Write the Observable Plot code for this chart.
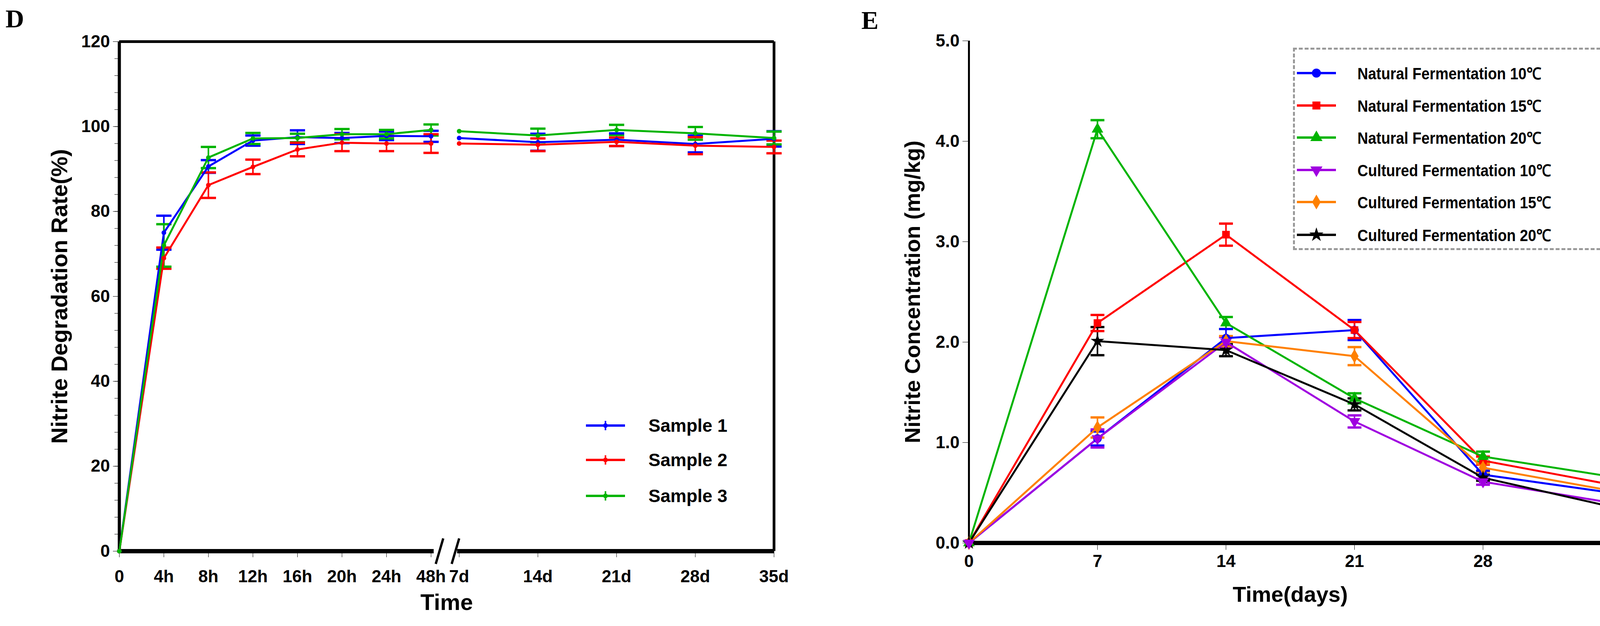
<!DOCTYPE html>
<html><head><meta charset="utf-8">
<script src="https://cdn.jsdelivr.net/npm/d3@7"></script>
<script src="https://cdn.jsdelivr.net/npm/@observablehq/plot@0.6"></script>
<style>
body{margin:0;background:#fff;width:4166px;height:1602px;position:relative;overflow:hidden;font-family:"Liberation Sans Narrow","Arial Narrow","Liberation Sans",sans-serif;font-weight:bold}
.panel{position:absolute;top:0}
.lbl{position:absolute;font-family:"Liberation Serif","DejaVu Serif",serif;font-weight:bold;font-size:66px}
.leg{position:absolute;font-size:46px;display:flex;align-items:center;white-space:nowrap;transform-origin:left center}
</style></head><body>
<div class="lbl" style="left:14px;top:10px">D</div>
<div class="lbl" style="left:2205px;top:14px">E</div>
<div id="d" class="panel" style="left:0"></div>
<div id="e" class="panel" style="left:2100px"></div>
<div id="legD"></div><div id="legE"></div>
<script>
// ---------- Panel D data ----------
const dHours = [0, 4, 8, 12, 16, 20, 24, 48];
const dDays = [7, 14, 21, 28, 35];
const dTickLabels = ["0","4h","8h","12h","16h","20h","24h","48h","7d","14d","21d","28d","35d"];
const samples = ["Sample 1", "Sample 2", "Sample 3"];
const sampleColors = ["#0000ff", "#ff0000", "#00b400"];
const s1Hours = [0, 75.0, 90.6, 96.7, 97.5, 97.3, 97.8, 97.7];
const s2Hours = [0, 69.0, 86.2, 90.5, 94.6, 96.2, 96.0, 96.0];
const s3Hours = [0, 72.0, 92.7, 97.2, 97.3, 98.2, 98.2, 99.2];
const s1Days = [97.3, 96.3, 96.9, 95.9, 97.1];
const s2Days = [96.0, 95.7, 96.4, 95.5, 95.2];
const s3Days = [98.9, 97.9, 99.2, 98.4, 97.3];
const s1HoursSD = [0, 4.0, 1.5, 1.2, 1.6, 1.2, 1.0, 1.3];
const s2HoursSD = [0, 2.5, 3.0, 1.7, 1.6, 2.0, 1.8, 2.2];
const s3HoursSD = [0, 5.0, 2.5, 1.3, 1.0, 1.2, 1.0, 1.3];
const s1DaysSD = [0, 2.0, 1.5, 2.0, 1.8];
const s2DaysSD = [0, 1.5, 1.0, 2.0, 1.5];
const s3DaysSD = [0, 1.6, 1.2, 1.5, 1.5];

// ---------- Panel E data ----------
const eDays = [0, 7, 14, 21, 28, 35];
const eSeries = ["Natural Fermentation 10℃","Natural Fermentation 15℃","Natural Fermentation 20℃","Cultured Fermentation 10℃","Cultured Fermentation 15℃","Cultured Fermentation 20℃"];
const eColors = ["#0000ff","#ff0000","#00b400","#a000e0","#ff8000","#000000"];
const eSymbols = ["circle","square","triangle","triangle-down","diamond","star"];
const nat10 = [0, 1.04, 2.04, 2.12, 0.68, 0.50];
const nat15 = [0, 2.19, 3.07, 2.12, 0.82, 0.58];
const nat20 = [0, 4.12, 2.19, 1.44, 0.86, 0.66];
const cul10 = [0, 1.04, 2.00, 1.21, 0.61, 0.40];
const cul15 = [0, 1.15, 2.01, 1.86, 0.75, 0.52];
const cul20 = [0, 2.01, 1.92, 1.38, 0.65, 0.36];
const nat10SD = [0, 0.07, 0.09, 0.10, 0.04, 0.03];
const nat15SD = [0, 0.08, 0.11, 0.08, 0.04, 0.03];
const nat20SD = [0, 0.09, 0.06, 0.05, 0.05, 0.03];
const cul10SD = [0, 0.09, 0.05, 0.06, 0.03, 0.03];
const cul15SD = [0, 0.10, 0.05, 0.09, 0.04, 0.03];
const cul20SD = [0, 0.14, 0.06, 0.06, 0.03, 0.03];

const FONT = '"Liberation Sans Narrow","Arial Narrow","Liberation Sans",sans-serif';
const capSym = {draw(ctx, size){ const r = Math.sqrt(size); ctx.moveTo(-r,0); ctx.lineTo(r,0);} };

// build D rows
const dRows = [];
const sH = [s1Hours, s2Hours, s3Hours], sD = [s1Days, s2Days, s3Days];
const eH = [s1HoursSD, s2HoursSD, s3HoursSD], eD = [s1DaysSD, s2DaysSD, s3DaysSD];
samples.forEach((s, i) => {
  dHours.forEach((h, j) => dRows.push({s, seg: s + "h", x: h, y: sH[i][j], sd: eH[i][j]}));
  dDays.forEach((d, j) => dRows.push({s, seg: s + "d", x: d * 24, y: sD[i][j], sd: eD[i][j]}));
});
const dTickVals = [...dHours, ...dDays.map(d => d * 24)];
const dColor = {domain: samples, range: sampleColors};
const dErr = dRows.filter(r => r.sd > 0);

const breakMarks = [{x1: 68, x2: 100}, {x1: 136, x2: 168}];
const plotD = Plot.plot({
  width: 2100, height: 1602,
  marginLeft: 305, marginRight: 119, marginTop: 106, marginBottom: 192,
  style: {fontFamily: FONT, fontWeight: "bold", fontSize: "44px", color: "#000", overflow: "visible"},
  x: {type: "linear", domain: [0, 24, 48, 168, 840], range: [305, 989, 1103, 1175, 1981]},
  y: {domain: [0, 120]},
  color: dColor,
  marks: [
    Plot.ruleY([120], {strokeWidth: 7}),
    Plot.ruleX([840], {strokeWidth: 7}),
    Plot.ruleY([0], {x1: 0, x2: 60, strokeWidth: 11}),
    Plot.ruleY([0], {x1: 160, x2: 840, strokeWidth: 11}),
    Plot.ruleX([0], {strokeWidth: 8}),
    Plot.link(breakMarks, {x1: "x1", x2: "x2", y1: -3, y2: 3, strokeWidth: 6}),
    Plot.axisY({ticks: d3.range(0, 121, 4), tickFormat: () => "", tickSize: 12, tickWidth: 5, label: null}),
    Plot.axisY({ticks: d3.range(0, 121, 20), tickSize: 16, tickPadding: 8, tickWidth: 6,
      label: "Nitrite Degradation Rate(%)", labelAnchor: "center", labelArrow: "none", labelOffset: 175,
      fontSize: 44}),
    Plot.axisX({ticks: dTickVals, tickFormat: (d, i) => dTickLabels[i], tickSize: 16, tickWidth: 4, tickPadding: 32,
      label: "Time", labelAnchor: "center", labelArrow: "none", labelOffset: 150}),
    Plot.ruleX(dErr, {x: "x", y1: d => d.y - d.sd, y2: d => d.y + d.sd, stroke: "s", strokeWidth: 4}),
    Plot.dot(dErr, {x: "x", y: d => d.y - d.sd, symbol: capSym, r: 11, stroke: "s", strokeWidth: 6}),
    Plot.dot(dErr, {x: "x", y: d => d.y + d.sd, symbol: capSym, r: 11, stroke: "s", strokeWidth: 6}),
    Plot.line(dRows, {x: "x", y: "y", z: "seg", stroke: "s", strokeWidth: 5}),
    Plot.dot(dRows, {x: "x", y: "y", fill: "s", r: 6})
  ]
});
plotD.querySelectorAll("g[aria-label='y-axis label'] text, g[aria-label='x-axis label'] text").forEach(t => t.setAttribute("font-size", "58"));
document.getElementById("d").append(plotD);

// build E rows
const eVals = [nat10, nat15, nat20, cul10, cul15, cul20];
const eSDs = [nat10SD, nat15SD, nat20SD, cul10SD, cul15SD, cul20SD];
const eRows = [];
eSeries.forEach((s, i) => eDays.forEach((d, j) => eRows.push({s, sym: eSymbols[i], x: d, y: eVals[i][j], sd: eSDs[i][j]})));
const eErr = eRows.filter(r => r.sd > 0);
const eColor = {domain: eSeries, range: eColors};
const symMap = {circle: d3.symbolCircle, square: d3.symbolSquare, triangle: d3.symbolTriangle, diamond: d3.symbolDiamond, star: d3.symbolStar};
const notDown = eRows.filter(r => r.sym !== "triangle-down");
const down = eRows.filter(r => r.sym === "triangle-down");

const plotE = Plot.plot({
  width: 2066, height: 1602,
  marginLeft: 380, marginRight: 41, marginTop: 104, marginBottom: 213,
  style: {fontFamily: FONT, fontWeight: "bold", fontSize: "44px", color: "#000", overflow: "visible"},
  x: {domain: [0, 35]},
  y: {domain: [0, 5]},
  color: eColor,
  marks: [
    Plot.ruleY([0], {strokeWidth: 11}),
    Plot.ruleX([0], {strokeWidth: 5}),
    Plot.axisY({ticks: d3.range(0, 5.01, 1), tickFormat: d3.format(".1f"), tickSize: 16, tickWidth: 6, tickPadding: 8,
      label: "Nitrite Concentration (mg/kg)", labelAnchor: "center", labelArrow: "none", labelOffset: 165}),
    Plot.axisX({ticks: eDays, tickSize: 18, tickWidth: 6, tickPadding: 12,
      label: "Time(days)", labelAnchor: "center", labelArrow: "none", labelOffset: 150}),
    Plot.ruleX(eErr, {x: "x", y1: d => d.y - d.sd, y2: d => d.y + d.sd, stroke: "s", strokeWidth: 4}),
    Plot.dot(eErr, {x: "x", y: d => d.y - d.sd, symbol: capSym, r: 10, stroke: "s", strokeWidth: 6}),
    Plot.dot(eErr, {x: "x", y: d => d.y + d.sd, symbol: capSym, r: 10, stroke: "s", strokeWidth: 6}),
    Plot.line(eRows, {x: "x", y: "y", z: "s", stroke: "s", strokeWidth: 5}),
    Plot.dot(notDown, {x: "x", y: "y", fill: "s", symbol: d => symMap[d.sym], r: 11}),
    Plot.dot(down, {x: "x", y: "y", fill: "s", symbol: d3.symbolTriangle, rotate: 180, r: 11})
  ]
});
plotE.querySelectorAll("g[aria-label='y-axis label'] text, g[aria-label='x-axis label'] text").forEach(t => t.setAttribute("font-size", "56"));
document.getElementById("e").append(plotE);

// Legends (HTML)
function symSvg(color, sym, rot, w, gap) {
  const path = sym ? d3.symbol(symMap[sym], 420)() : null;
  return `<svg width="${w}" height="40" style="margin-right:${gap}px"><line x1="5" x2="${w-5}" y1="20" y2="20" stroke="${color}" stroke-width="6"/>` +
    (path ? `<path d="${path}" fill="${color}" transform="translate(${w/2},20) rotate(${rot||0})"/>` : `<circle cx="${w/2}" cy="20" r="6" fill="${color}"/><line x1="${w/2}" x2="${w/2}" y1="8" y2="32" stroke="${color}" stroke-width="4"/>`) + `</svg>`;
}
const legD = document.getElementById("legD");
const legDy = [1088, 1176, 1268];
samples.forEach((s, i) => {
  const el = document.createElement("div"); el.className = "leg";
  el.style.left = "1495px"; el.style.top = (legDy[i] - 26) + "px";
  el.innerHTML = symSvg(sampleColors[i], null, 0, 110, 55) + s;
  legD.append(el);
});
const legE = document.getElementById("legE");
const box = document.createElement("div");
box.style.cssText = "position:absolute;left:3310px;top:122px;width:802px;height:518px;border:5px dashed #999;box-sizing:border-box";
legE.append(box);
const legEy = [183, 266, 348, 431, 513, 597];
eSeries.forEach((s, i) => {
  const el = document.createElement("div"); el.className = "leg";
  el.style.left = "3315px"; el.style.top = (legEy[i] - 25) + "px"; el.style.fontSize = "42px";
  const sym = eSymbols[i] === "triangle-down" ? "triangle" : eSymbols[i];
  el.innerHTML = symSvg(eColors[i], sym, eSymbols[i] === "triangle-down" ? 180 : 0, 110, 50) + `<span style="display:inline-block;transform:scaleX(0.9);transform-origin:left center">${s}</span>`;
  legE.append(el);
});
</script></body></html>
